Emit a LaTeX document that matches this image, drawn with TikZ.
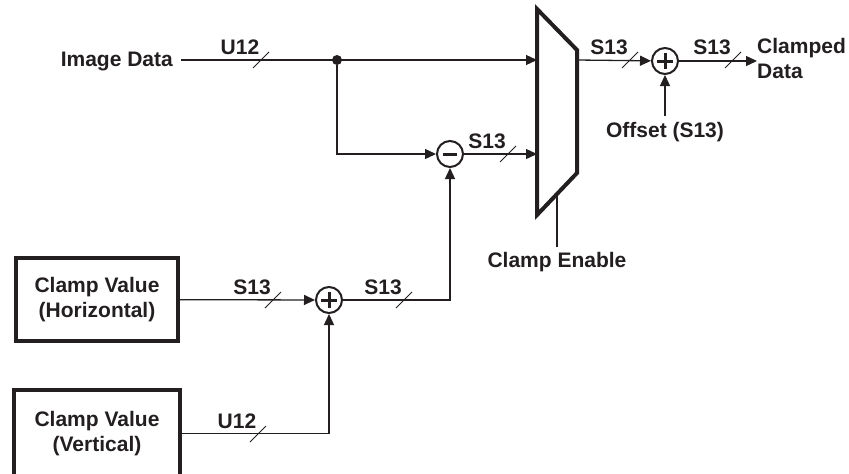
\documentclass[tikz,border=0pt]{standalone}
\usepackage{fontspec}
\setmainfont{Liberation Sans}
\usetikzlibrary{arrows.meta}
\definecolor{ink}{HTML}{231F20}
\tikzset{
  lbl/.style={font=\bfseries\fontsize{21}{25}\selectfont, text=ink, inner sep=0pt},
  wire/.style={line width=1.3pt, draw=ink},
  arr/.style={wire, -{Triangle[length=11pt,width=10pt]}},
  blk/.style={lbl, draw=ink, line width=4pt, minimum width=162pt, minimum height=83pt, align=center},
  sumnode/.style={circle, draw=ink, line width=2pt, minimum size=26pt, inner sep=0pt},
  dotnode/.style={circle, fill=ink, minimum size=10pt, inner sep=0pt},
}
% bus width mark: slash on the wire plus its label
\newcommand{\busmark}[3]{%
  \draw[ink, line width=1pt] (#1,#2) ++(-8,8) -- ++(16,-16);
  \node[lbl, anchor=base] at (#1-21,#2-6) {#3};}

\begin{document}
\begin{tikzpicture}[x=1pt,y=-1pt]
\useasboundingbox (0,0) rectangle (849,474);
\node[lbl, anchor=base east, inner xsep=8pt] (img) at (181,66) {Image Data};
\node[dotnode] (tap) at (337,60) {};
\draw[line width=4pt, ink, line join=miter] (537,9) -- (577,50) -- (577,173) -- (537,215) -- cycle;
\coordinate (in1) at (537,60);
\coordinate (in2) at (537,154);
\coordinate (out1) at (577,60);
\coordinate (en) at (557,194);
\node[sumnode] (sub) at (450,154) {};
\draw[ink, line width=3pt] (sub.center) ++(-7,0) -- ++(14,0);
\node[sumnode] (addo) at (665,61) {};
\draw[ink, line width=3pt] (addo.center) ++(-8,0) -- ++(16,0) (addo.center) ++(0,-8) -- ++(0,16);
\node[sumnode] (addc) at (329,300) {};
\draw[ink, line width=3pt] (addc.center) ++(-8,0) -- ++(16,0) (addc.center) ++(0,-8) -- ++(0,16);
\node[blk] (hbox) at (97,299.5) {Clamp Value\\(Horizontal)};
% lower box runs past the bottom edge
\node[blk, draw=none] (vbox) at (97,433.5) {Clamp Value\\(Vertical)};
\draw[ink, line width=4pt] (vbox.south west) ++(0,12) rectangle (vbox.north east);
\node[lbl, anchor=base, inner sep=5pt] (ce) at (557,267) {Clamp Enable};
\node[lbl, anchor=base, inner sep=6pt] (offs) at (665,137) {Offset (S13)};
\node[lbl, align=left, anchor=west] (cd) at (757,58) {Clamped\\Data};

\draw[arr] (img.east |- in1) -- (in1);
\draw[arr] (tap) |- (sub);
\draw[arr] (sub) -- (in2);
\draw[arr] (out1) -- (addo);
\draw[arr] (addo) -- (addo -| cd.west);
\draw[arr] (offs) -- (addo);
\draw[arr] (hbox) -- (addc);
\draw[arr] (vbox.east) -| (addc);
\draw[arr] (addc) -| (sub);
\draw[wire] (en) -- (ce);

\busmark{261}{60}{U12}
\busmark{508}{154}{S13}
\busmark{630}{60}{S13}
\busmark{733}{60}{S13}
\busmark{273}{300}{S13}
\busmark{404}{300}{S13}
\busmark{258}{434}{U12}
\end{tikzpicture}
\end{document}
